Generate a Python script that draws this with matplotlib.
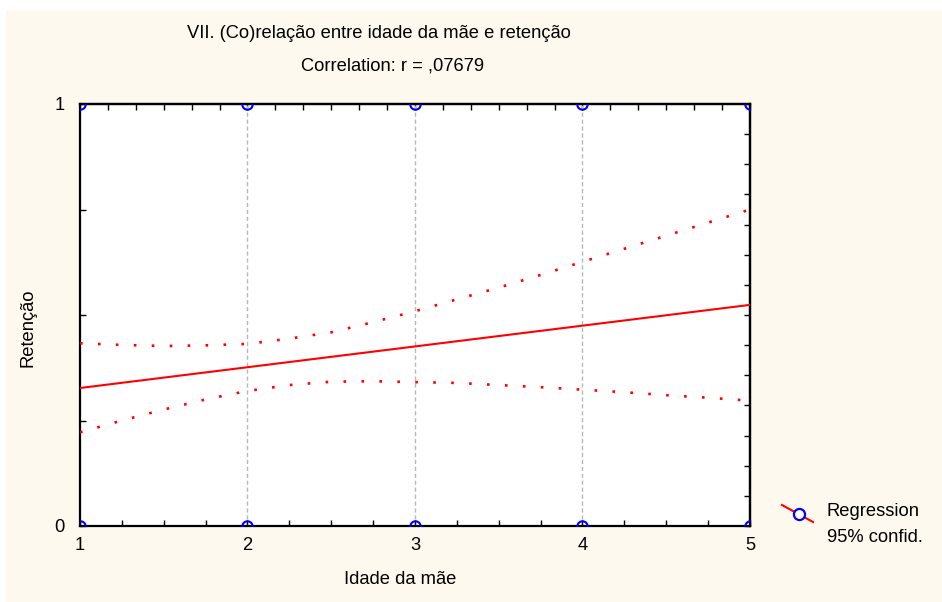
import numpy as np
import matplotlib
matplotlib.use('Agg')
import matplotlib.pyplot as plt
from matplotlib.lines import Line2D
from matplotlib.patches import Rectangle
from matplotlib.ticker import MultipleLocator, NullFormatter

plt.rcParams['font.family'] = ['Liberation Sans', 'DejaVu Sans']

# observed points (binary outcome vs. mother's age class)
idade = [1, 2, 3, 4, 5, 1, 2, 3, 4, 5]
retencao = [0, 0, 0, 0, 0, 1, 1, 1, 1, 1]

# fitted regression line (read at the ends)
reg_x = [1, 5]
reg_y = [0.327, 0.524]

# 95% confidence band
band_x = [1, 1.25, 1.5, 1.75, 2, 2.25, 2.5, 2.75, 3, 3.25, 3.5, 3.75, 4, 4.25, 4.5, 4.75, 5]
band_upper = [0.433, 0.429, 0.4265, 0.428, 0.4315, 0.444, 0.459, 0.483, 0.509, 0.537,
              0.565, 0.595, 0.626, 0.657, 0.688, 0.719, 0.750]
band_lower = [0.222, 0.250, 0.276, 0.300, 0.320, 0.334, 0.342, 0.343, 0.341, 0.339,
              0.334, 0.329, 0.323, 0.317, 0.310, 0.304, 0.297]

FS = 13.2
cream = '#FEF9EE'
fig = plt.figure(figsize=(9.42, 6.02), dpi=100)
fig.patch.set_facecolor('white')
# cream panel leaves a thin white strip on top and left
fig.add_artist(Rectangle((6 / 942, 0), 1, 1 - 10 / 602, transform=fig.transFigure,
                         facecolor=cream, edgecolor='none', zorder=-10))

ax = fig.add_axes([80 / 942, 76 / 602, 670 / 942, 422 / 602])
ax.set_facecolor('white')

ax.set_xlim(1, 5)
ax.set_ylim(0, 1)

for gx in [2, 3, 4]:
    ax.axvline(gx, color='#b8b8b8', lw=1, ls=(0, (3, 2)), zorder=1)

ax.plot(reg_x, reg_y, color='red', lw=1.5, zorder=3)
ax.plot(band_x, band_upper, color='red', lw=1.9, ls=(0, (1, 5.8)), zorder=3)
ax.plot(band_x, band_lower, color='red', lw=1.9, ls=(0, (1, 5.8)), zorder=3)
ax.plot(idade, retencao, ls='none', marker='o', ms=7.5, mfc='none', mec='blue',
        mew=1.5, zorder=4)

ax.xaxis.set_major_locator(MultipleLocator(1))
ax.xaxis.set_minor_locator(MultipleLocator(0.25))
ax.yaxis.set_major_locator(MultipleLocator(1))
ax.yaxis.set_minor_locator(MultipleLocator(0.25))
ax.tick_params(which='both', direction='in', top=False, right=False,
               length=4, width=1, color='black')
ax.tick_params(axis='x', labelsize=FS, pad=8)
ax.tick_params(axis='y', labelsize=FS, pad=11)
for s in ax.spines.values():
    s.set_linewidth(1.6)

# top and right edges carry their own finer tick spacing
top = ax.secondary_xaxis('top')
top.xaxis.set_major_locator(MultipleLocator(1 / 6))
top.xaxis.set_major_formatter(NullFormatter())
top.tick_params(direction='in', length=4, width=1)
top.spines['top'].set_linewidth(1.6)
right = ax.secondary_yaxis('right')
right.yaxis.set_major_locator(MultipleLocator(1 / 14))
right.yaxis.set_major_formatter(NullFormatter())
right.tick_params(direction='in', length=4, width=1)
right.spines['right'].set_linewidth(1.6)

fig.text(379 / 942, 1 - 33 / 602, 'VII. (Co)relação entre idade da mãe e retenção',
         ha='center', va='center', fontsize=FS)
fig.text(393 / 942, 1 - 66 / 602, 'Correlation: r = ,07679',
         ha='center', va='center', fontsize=FS)
fig.text(400 / 942, 1 - 580 / 602, 'Idade da mãe', ha='center', va='center', fontsize=FS)
fig.text(28 / 942, 1 - 328 / 602, 'Retenção', ha='center', va='center',
         rotation=90, fontsize=FS)

# legend
fig.add_artist(Line2D([782 / 942, 813 / 942], [1 - 505 / 602, 1 - 522 / 602],
                      transform=fig.transFigure, color='red', lw=1.5))
fig.add_artist(Line2D([799 / 942], [1 - 514 / 602], transform=fig.transFigure,
                      marker='o', ms=8, mfc='white', mec='blue', mew=1.6, ls='none'))
fig.text(827 / 942, 1 - 512 / 602, 'Regression', ha='left', va='center', fontsize=FS)
fig.text(827 / 942, 1 - 538 / 602, '95% confid.', ha='left', va='center', fontsize=FS)

fig.savefig('out.png', dpi=100, facecolor=fig.get_facecolor())
